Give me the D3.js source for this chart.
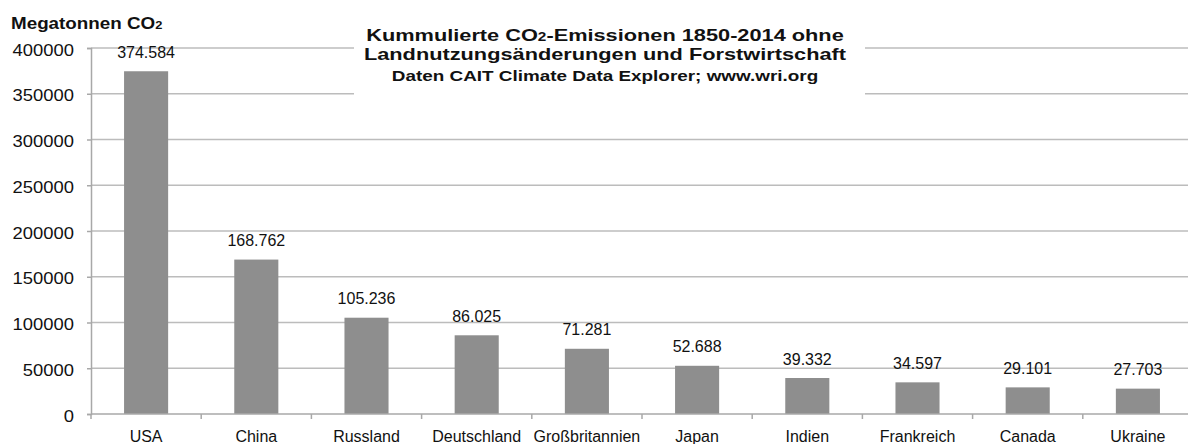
<!DOCTYPE html>
<html>
<head>
<meta charset="utf-8">
<script src="https://cdn.jsdelivr.net/npm/d3@7"></script>
<style>
  html, body { margin: 0; padding: 0; background: #fff; }
  svg { display: block; font-family: "Liberation Sans", Arial, sans-serif; }
</style>
</head>
<body>
<svg id="chart" width="1188" height="444"></svg>
<script>
// ---- data ----
const categories = ["USA", "China", "Russland", "Deutschland", "Großbritannien", "Japan", "Indien", "Frankreich", "Canada", "Ukraine"];
const emissions = [374584, 168762, 105236, 86025, 71281, 52688, 39332, 34597, 29101, 27703];
const yTicks = [0, 50000, 100000, 150000, 200000, 250000, 300000, 350000, 400000];
const titleLines = ["Kummulierte CO", "2", "-Emissionen 1850-2014 ohne"];
const titleLine2 = "Landnutzungsänderungen und Forstwirtschaft";
const titleLine3 = "Daten CAIT Climate Data Explorer; www.wri.org";
const yAxisTitle = ["Megatonnen CO", "2"];

(function () {
// ---- layout ----
const svg = d3.select("#chart");
const plotLeft = 91, plotRight = 1193, plotTop = 48, plotBottom = 414;
const gridColor = "#bcbcbc", axisColor = "#a8a8a8", barColor = "#8e8e8e";

const x = d3.scaleBand().domain(categories).range([plotLeft, plotRight]).paddingInner(0.6).paddingOuter(0.3);
const y = d3.scaleLinear().domain([0, 400000]).range([plotBottom, plotTop]);

const deFormat = d3.formatLocale({ decimal: ",", thousands: ".", grouping: [3], currency: ["", "€"] }).format(",d");

// gridlines
svg.append("g").selectAll("line")
  .data(yTicks.filter(d => d > 0))
  .join("line")
  .attr("x1", plotLeft).attr("x2", 1188)
  .attr("y1", d => y(d)).attr("y2", d => y(d))
  .attr("stroke", gridColor).attr("stroke-width", 1.5);

// bars
svg.append("g").selectAll("rect")
  .data(emissions)
  .join("rect")
  .attr("x", (d, i) => x(categories[i]))
  .attr("width", x.bandwidth())
  .attr("y", d => y(d))
  .attr("height", d => y(0) - y(d))
  .attr("fill", barColor);

// value labels
svg.append("g").selectAll("text")
  .data(emissions)
  .join("text")
  .attr("x", (d, i) => x(categories[i]) + x.bandwidth() / 2)
  .attr("y", d => y(d) - 13.4)
  .attr("text-anchor", "middle")
  .attr("font-size", 16)
  .attr("fill", "#111")
  .text(d => deFormat(d));

// y axis
const yAxis = svg.append("g")
  .attr("transform", `translate(${plotLeft},0)`)
  .call(d3.axisLeft(y).tickValues(yTicks).tickSize(4).tickFormat(d3.format("d")));
yAxis.select(".domain").attr("stroke", axisColor).attr("stroke-width", 1.5);
yAxis.selectAll(".tick line").attr("stroke", axisColor).attr("stroke-width", 1.5);
yAxis.selectAll(".tick text")
  .attr("x", 0).attr("y", 7).attr("dy", null)
  .attr("transform", "translate(-17,0) scale(1.13,1)")
  .attr("text-anchor", "end")
  .attr("font-family", "Liberation Sans, Arial, sans-serif")
  .attr("font-size", 16.3)
  .attr("fill", "#111");

// x axis line + boundary ticks
const xAxisG = svg.append("g");
xAxisG.append("line")
  .attr("x1", plotLeft).attr("x2", 1188)
  .attr("y1", y(0)).attr("y2", y(0))
  .attr("stroke", axisColor).attr("stroke-width", 1.5);
const boundaries = d3.range(categories.length + 1).map(i => plotLeft + i * x.step());
xAxisG.selectAll("line.bt")
  .data(boundaries)
  .join("line")
  .attr("class", "bt")
  .attr("x1", d => d).attr("x2", d => d)
  .attr("y1", y(0)).attr("y2", y(0) + 5)
  .attr("stroke", axisColor).attr("stroke-width", 1.5);
xAxisG.selectAll("text")
  .data(categories)
  .join("text")
  .attr("x", d => x(d) + x.bandwidth() / 2)
  .attr("y", 442)
  .attr("text-anchor", "middle")
  .attr("font-size", 16)
  .attr("fill", "#111")
  .text(d => d);

// y axis title
const yt = svg.append("text")
  .attr("transform", "translate(11,29.3) scale(1.12,1)")
  .attr("font-size", 16.8).attr("font-weight", "bold").attr("fill", "#111");
yt.append("tspan").text(yAxisTitle[0]);
yt.append("tspan").attr("font-size", 11.5).text(yAxisTitle[1]);

// title box
svg.append("rect").attr("x", 354).attr("y", 18).attr("width", 511).attr("height", 82).attr("fill", "#fff");
const cx = 605;
const t1 = svg.append("text")
  .attr("transform", `translate(${cx},40.7) scale(1.28,1)`)
  .attr("text-anchor", "middle").attr("font-size", 17).attr("font-weight", "bold").attr("fill", "#111");
t1.append("tspan").text(titleLines[0]);
t1.append("tspan").attr("font-size", 12).text(titleLines[1]);
t1.append("tspan").text(titleLines[2]);
svg.append("text")
  .attr("transform", `translate(${cx},59.5) scale(1.28,1)`)
  .attr("text-anchor", "middle").attr("font-size", 17).attr("font-weight", "bold").attr("fill", "#111")
  .text(titleLine2);
svg.append("text")
  .attr("transform", `translate(${cx},80.7) scale(1.26,1)`)
  .attr("text-anchor", "middle").attr("font-size", 15).attr("font-weight", "bold").attr("fill", "#111")
  .text(titleLine3);
})();
</script>
</body>
</html>
